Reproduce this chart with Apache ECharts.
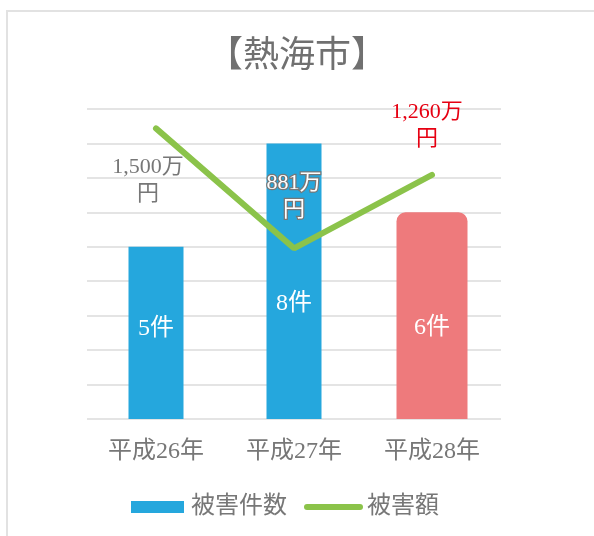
<!DOCTYPE html>
<html>
<head>
<meta charset="utf-8">
<script src="https://cdn.jsdelivr.net/npm/echarts@6/dist/echarts.min.js"></script>
<style>
html, body { margin: 0; padding: 0; background: #fff; }
#frame {
  position: absolute; left: 6px; top: 10px; width: 600px; height: 540px;
  border-left: 2px solid #e2e2e2; border-top: 2px solid #e2e2e2;
}
#chart { position: absolute; left: 0; top: 0; width: 594px; height: 536px; }
</style>
</head>
<body>
<div id="frame"></div>
<div id="chart"></div>
<script>
// 年度
const years = ['平成26年', '平成27年', '平成28年']
// 被害件数（件）
const caseCounts = [5, 8, 6]
// 被害額（万円）
const damageAmounts = [1500, 881, 1260]
const damageLabels = ['1,500万\n円', '881万\n円', '1,260万\n円']

const font = '"Liberation Serif", "Noto Sans CJK JP", serif'
const gray = '#777777'

let chart = echarts.init(document.getElementById('chart'))

let option = {
  title: {
    text: '【熱海市】',
    left: 'center',
    top: 35,
    padding: 0,
    textStyle: {
      fontFamily: '"Noto Sans CJK JP", serif',
      fontSize: 36,
      fontWeight: 'normal',
      color: '#707070'
    }
  },
  legend: {
    bottom: 12,
    left: 126,
    itemWidth: 53,
    itemHeight: 12,
    itemGap: 17,
    textStyle: { fontFamily: font, fontSize: 24, color: gray, padding: [0, 0, 0, 2] },
    data: [
      { name: '被害件数', icon: 'rect', itemStyle: { color: '#25a7dd' } },
      { name: '被害額', itemStyle: { opacity: 0 }, lineStyle: { width: 6, cap: 'round', color: '#8bc34a' } }
    ]
  },
  grid: {
    left: 87,
    right: 93,
    top: 109,
    bottom: 117
  },
  xAxis: [
    {
      type: 'category',
      data: years,
      axisLine: { show: false },
      axisTick: { show: false },
      axisLabel: { fontFamily: font, fontSize: 24, color: gray, margin: 21 }
    },
    {
      type: 'category',
      data: years,
      show: false
    }
  ],
  yAxis: [
    {
      type: 'value',
      min: 0,
      max: 9,
      interval: 1,
      axisLine: { show: false },
      axisTick: { show: false },
      axisLabel: { show: false },
      splitLine: { lineStyle: { color: '#e4e4e4', width: 2 } }
    },
    {
      type: 'value',
      min: 0,
      max: 1600,
      show: false
    }
  ],
  series: [
    {
      name: '被害件数',
      type: 'bar',
      xAxisIndex: 0,
      yAxisIndex: 0,
      barWidth: 55,
      itemStyle: { color: '#25a7dd' },
      label: {
        show: true,
        position: 'inside',
        fontFamily: font,
        fontSize: 24,
        color: '#fff',
        formatter: p => p.value + '件'
      },
      data: [
        { value: caseCounts[0], label: { offset: [0, -4] } },
        { value: caseCounts[1], label: { offset: [0, 22] } },
        '-'
      ]
    },
    {
      name: '被害件数(平成28年)',
      type: 'bar',
      xAxisIndex: 1,
      yAxisIndex: 0,
      barWidth: 71,
      itemStyle: { color: '#ee7a7c', borderRadius: [9, 9, 0, 0] },
      label: {
        show: true,
        position: 'inside',
        offset: [0, 12],
        fontFamily: font,
        fontSize: 24,
        color: '#fff',
        formatter: p => p.value + '件'
      },
      data: ['-', '-', caseCounts[2]]
    },
    {
      name: '被害額',
      type: 'line',
      xAxisIndex: 0,
      yAxisIndex: 1,
      z: 5,
      symbol: 'circle',
      symbolSize: 1,
      showSymbol: true,
      itemStyle: { color: '#8bc34a' },
      lineStyle: { color: '#8bc34a', width: 6, cap: 'round' },
      label: {
        show: true,
        fontFamily: font,
        fontSize: 22,
        lineHeight: 27,
        formatter: p => damageLabels[p.dataIndex]
      },
      data: [
        { value: damageAmounts[0], label: { position: 'bottom', distance: 5, offset: [-8, 20], color: gray } },
        {
          value: damageAmounts[1],
          label: {
            position: 'top', distance: 5, offset: [0, -19],
            color: '#fff', textBorderColor: '#777', textBorderWidth: 2.5
          }
        },
        { value: damageAmounts[2], label: { position: 'top', distance: 5, offset: [-5, -17], color: '#e60012' } }
      ]
    }
  ]
}

chart.setOption(option)
</script>
</body>
</html>
